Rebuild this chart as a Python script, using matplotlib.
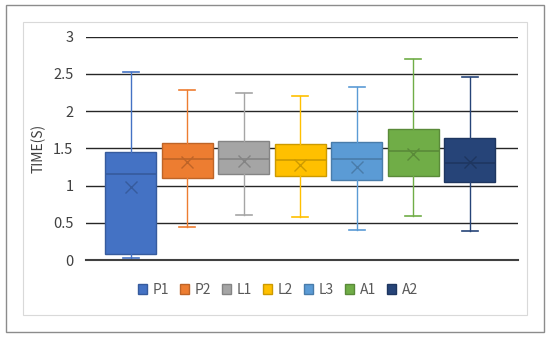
import matplotlib
matplotlib.use('Agg')
import matplotlib.pyplot as plt
from matplotlib.patches import Rectangle, Patch
from matplotlib.colors import to_rgb

plt.rcParams['font.family'] = ['Noto Sans CJK SC', 'DejaVu Sans']

# data
labels = ['P1', 'P2', 'L1', 'L2', 'L3', 'A1', 'A2']
whislo = [0.03, 0.45, 0.61, 0.58, 0.40, 0.59, 0.39]
q1 = [0.08, 1.10, 1.15, 1.13, 1.08, 1.13, 1.05]
med = [1.16, 1.36, 1.36, 1.34, 1.36, 1.46, 1.30]
mean = [0.98, 1.32, 1.33, 1.28, 1.25, 1.42, 1.31]
q3 = [1.45, 1.57, 1.60, 1.56, 1.59, 1.76, 1.64]
whishi = [2.53, 2.28, 2.24, 2.20, 2.33, 2.70, 2.46]
colors = ['#4472C4', '#ED7D31', '#A5A5A5', '#FFC000', '#5B9BD5', '#70AD47', '#264478']


def darker(c, f=0.8):
    r, g, b = to_rgb(c)
    return (r * f, g * f, b * f)


fig = plt.figure(figsize=(5.5, 3.39), dpi=100)
W, H = 550, 339
# outer and inner frames
fig.add_artist(Rectangle((6 / W, 1 - 332 / H), 538 / W, 327 / H, transform=fig.transFigure,
                         fill=False, ec='#8c8c8c', lw=1.0))
fig.add_artist(Rectangle((23 / W, 1 - 315 / H), 504 / W, 293 / H, transform=fig.transFigure,
                         fill=False, ec='#d9d9d9', lw=0.8))

ax = fig.add_axes([86 / W, 1 - 260 / H, 432 / W, 223.3 / H])

for i in range(len(labels)):
    st = [dict(whislo=whislo[i], q1=q1[i], med=med[i], mean=mean[i], q3=q3[i],
               whishi=whishi[i], fliers=[], label=labels[i])]
    dc = darker(colors[i])
    ax.bxp(st, positions=[i], widths=0.9, patch_artist=True, showmeans=True,
           boxprops=dict(facecolor=colors[i], edgecolor=dc, lw=1.0),
           medianprops=dict(color=dc, lw=1.2),
           whiskerprops=dict(color=colors[i], lw=1.0),
           capprops=dict(color=colors[i], lw=1.2),
           capwidths=0.28,
           meanprops=dict(marker='x', markeredgecolor=dc, markersize=8, markeredgewidth=1.0),
           manage_ticks=False)

ax.set_xlim(-0.79, 6.85)
ax.set_ylim(0, 3)
ax.set_yticks([0, 0.5, 1, 1.5, 2, 2.5, 3])
ax.set_yticklabels(['0', '0.5', '1', '1.5', '2', '2.5', '3'])
ax.yaxis.grid(True, color='#262626', lw=1.0)
ax.set_axisbelow(True)
ax.set_xticks([])
for s in ['top', 'right', 'left']:
    ax.spines[s].set_visible(False)
ax.spines['bottom'].set_color('#404040')
ax.spines['bottom'].set_linewidth(1.5)
ax.tick_params(axis='y', length=0, labelsize=10.5, colors='#404040', pad=9)
ax.set_ylabel('TIME(S)', fontsize=10, color='#404040', labelpad=5)

handles = [Patch(facecolor=c, edgecolor=darker(c)) for c in colors]
fig.legend(handles, labels, loc='center', bbox_to_anchor=(278 / W, 1 - 290 / H), ncol=7,
           frameon=False, fontsize=10, handlelength=0.65, handleheight=0.65,
           handletextpad=0.4, columnspacing=0.8, labelcolor='#595959')

fig.savefig('out.png', dpi=100)
